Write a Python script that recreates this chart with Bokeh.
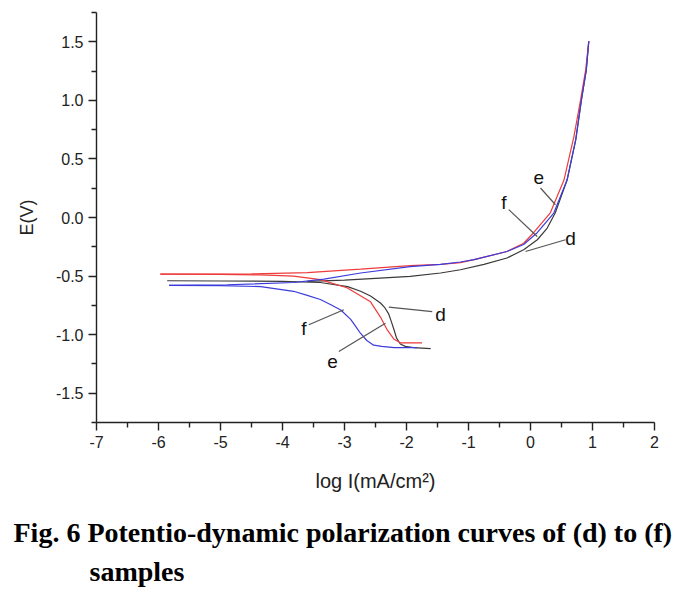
from bokeh.plotting import figure
from bokeh.models import Range1d, FixedTicker, PrintfTickFormatter, Label, Title
from bokeh.embed import file_html
from bokeh.resources import INLINE

# ---- data: (log I, E) ----
d_cath_logi = [-1.61, -1.89, -2.02, -2.10, -2.16, -2.20, -2.25, -2.29, -2.35, -2.42, -2.58, -2.74, -2.95, -3.39, -4.0, -5.0, -5.86]
d_cath_e    = [-1.12, -1.11, -1.10, -1.08, -1.03, -0.96, -0.88, -0.82, -0.77, -0.73, -0.67, -0.63, -0.59, -0.555, -0.545, -0.542, -0.54]
d_anod_logi = [-3.6, -3.0, -2.5, -1.94, -1.45, -1.13, -0.75, -0.38, -0.11, 0.11, 0.27, 0.40, 0.59, 0.73, 0.82, 0.90, 0.94]
d_anod_e    = [-0.545, -0.535, -0.52, -0.503, -0.474, -0.446, -0.40, -0.346, -0.275, -0.19, -0.09, 0.04, 0.32, 0.665, 1.0, 1.26, 1.505]

e_cath_logi = [-1.75, -2.10, -2.20, -2.31, -2.42, -2.58, -2.96, -3.39, -3.82, -4.35, -5.0, -5.97]
e_cath_e    = [-1.07, -1.07, -1.04, -0.96, -0.85, -0.72, -0.60, -0.53, -0.50, -0.49, -0.485, -0.483]
e_anod_logi = [-5.97, -4.5, -3.60, -2.74, -1.94, -1.45, -1.13, -0.91, -0.38, -0.11, 0.05, 0.32, 0.54, 0.70, 0.81, 0.89, 0.94]
e_anod_e    = [-0.483, -0.482, -0.47, -0.44, -0.41, -0.40, -0.385, -0.36, -0.29, -0.22, -0.13, 0.04, 0.32, 0.69, 1.01, 1.26, 1.505]

f_cath_logi = [-1.83, -2.20, -2.40, -2.53, -2.64, -2.74, -2.82, -2.90, -3.06, -3.22, -3.39, -3.60, -3.82, -4.35, -5.0, -5.83]
f_cath_e    = [-1.11, -1.11, -1.10, -1.09, -1.05, -0.99, -0.93, -0.87, -0.79, -0.745, -0.70, -0.665, -0.63, -0.59, -0.582, -0.58]
f_anod_logi = [-5.83, -4.89, -3.82, -3.33, -2.74, -1.94, -1.45, -1.13, -0.91, -0.38, -0.11, 0.108, 0.376, 0.59, 0.73, 0.82, 0.90, 0.94]
f_anod_e    = [-0.58, -0.574, -0.555, -0.526, -0.474, -0.419, -0.40, -0.38, -0.36, -0.29, -0.23, -0.13, 0.038, 0.32, 0.665, 1.0, 1.26, 1.505]

x_ticks = [-7, -6, -5, -4, -3, -2, -1, 0, 1, 2]
y_ticks = [-1.5, -1.0, -0.5, 0.0, 0.5, 1.0, 1.5]

# annotation letters and leader lines (data coords)
ann_text = ["e", "f", "d", "d", "f", "e"]
ann_x    = [0.134, -0.431, 0.645, -1.452, -3.656, -3.195]
ann_y    = [0.338, 0.124, -0.175, -0.831, -0.944, -1.230]
lead_x0  = [0.161, -0.35, 0.565, -1.585, -3.576, -3.092]
lead_y0  = [0.252, 0.067, -0.19, -0.803, -0.916, -1.144]
lead_x1  = [0.403, 0.108, -0.081, -2.285, -3.011, -2.339]
lead_y1  = [0.109, -0.162, -0.29, -0.765, -0.788, -0.902]

caption1 = "Fig. 6 Potentio-dynamic polarization curves of (d) to (f)"
caption2 = "samples"

FONT = "Liberation Sans"

p = figure(frame_width=558, frame_height=410, output_backend="svg", toolbar_location=None,
           x_range=Range1d(-7, 2), y_range=Range1d(-1.75, 1.75),
           min_border_left=96, min_border_top=12, min_border_bottom=170, min_border_right=30)
p.outline_line_color = None
p.xgrid.visible = False
p.ygrid.visible = False
p.background_fill_color = "white"
p.border_fill_color = "white"

for ax in (p.xaxis[0], p.yaxis[0]):
    ax.axis_line_color = "#222222"
    ax.axis_line_width = 1.4
    ax.major_tick_line_color = "#222222"
    ax.minor_tick_line_color = "#222222"
    ax.major_tick_line_width = 1.4
    ax.minor_tick_line_width = 1.4
    ax.major_tick_in = 0
    ax.major_tick_out = 8
    ax.minor_tick_in = 0
    ax.minor_tick_out = 5
    ax.major_label_text_font = FONT
    ax.major_label_text_font_size = "16px"
    ax.major_label_text_color = "#222222"
    ax.axis_label_text_font = FONT
    ax.axis_label_text_font_style = "normal"
    ax.axis_label_text_color = "#222222"
    ax.major_label_standoff = 5

p.xaxis.ticker = FixedTicker(ticks=x_ticks, minor_ticks=[t + 0.5 for t in x_ticks[:-1]])
p.xaxis.formatter = PrintfTickFormatter(format="%d")
p.yaxis.ticker = FixedTicker(ticks=y_ticks, minor_ticks=[-1.75, -1.25, -0.75, -0.25, 0.25, 0.75, 1.25, 1.75])
p.yaxis.formatter = PrintfTickFormatter(format="%.1f")
p.xaxis.axis_label = "log I(mA/cm²)"
p.yaxis.axis_label = "E(V)"
p.xaxis.axis_label_text_font_size = "20px"
p.yaxis.axis_label_text_font_size = "18px"
p.xaxis.axis_label_standoff = 19
p.yaxis.axis_label_standoff = 16

BLACK, RED, BLUE = "#3a3a3a", "#ee3b3b", "#3c3cdc"
p.line(d_cath_logi, d_cath_e, line_color=BLACK, line_width=1.2)
p.line(d_anod_logi, d_anod_e, line_color=BLACK, line_width=1.2)
p.line(e_cath_logi, e_cath_e, line_color=RED, line_width=1.2)
p.line(e_anod_logi, e_anod_e, line_color=RED, line_width=1.2)
p.line(f_cath_logi, f_cath_e, line_color=BLUE, line_width=1.2)
p.line(f_anod_logi, f_anod_e, line_color=BLUE, line_width=1.2)

p.segment(x0=lead_x0, y0=lead_y0, x1=lead_x1, y1=lead_y1, line_color="#555555", line_width=1.2)
for t, x, y in zip(ann_text, ann_x, ann_y):
    p.add_layout(Label(x=x, y=y, text=t, text_font=FONT, text_font_size="19px",
                       text_align="center", text_baseline="middle", text_color="#111111"))

t1 = Title(text=caption1, align="left", offset=-83, standoff=40, text_line_height=0.9,
           text_font="Liberation Serif", text_font_style="bold", text_font_size="28px", text_color="black")
t2 = Title(text=caption2, align="left", offset=-7, standoff=-28, text_line_height=0.9,
           text_font="Liberation Serif", text_font_style="bold", text_font_size="28px", text_color="black")
p.add_layout(t1, "below")
p.add_layout(t2, "below")

open("out.html", "w").write(file_html(p, INLINE))
